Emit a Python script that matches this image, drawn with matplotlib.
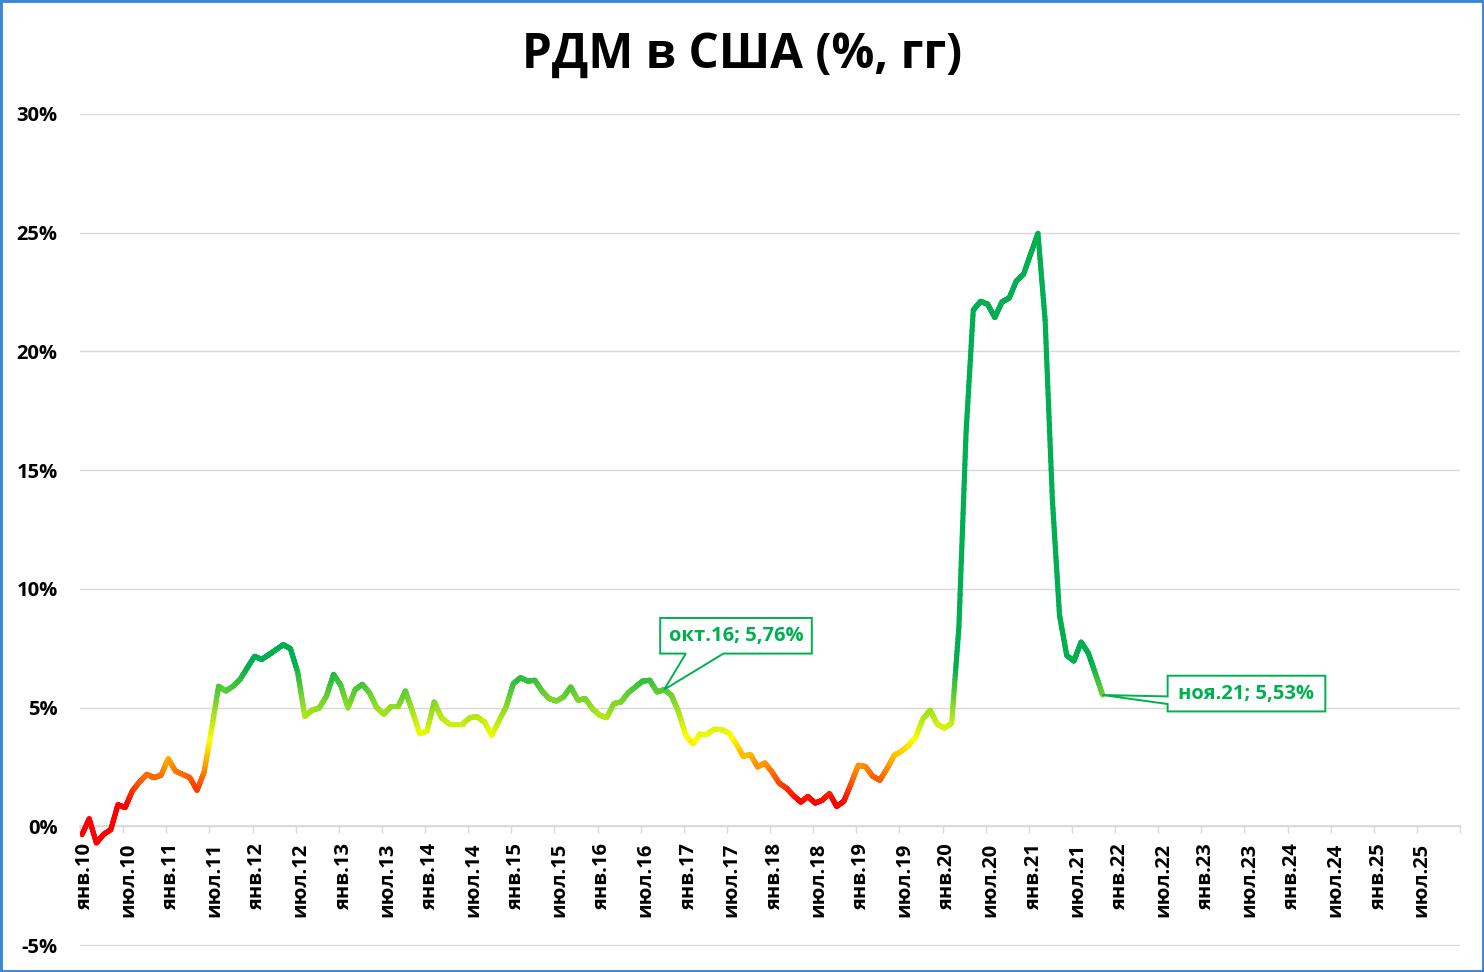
import numpy as np
import matplotlib
matplotlib.use("Agg")
import matplotlib.pyplot as plt
from matplotlib.collections import LineCollection
from matplotlib.colors import LinearSegmentedColormap, Normalize
from matplotlib.patches import Rectangle, Polygon
from matplotlib.transforms import ScaledTranslation

# ---------------- data ----------------
title = "РДМ в США (%, гг)"
# monthly values from янв.10 to ноя.21 (% yoy)
values = [
    -0.35, 0.32, -0.70, -0.34, -0.14, 0.91, 0.79, 1.49, 1.87, 2.19, 2.05, 2.15,   # 2010
    2.85, 2.33, 2.19, 2.05, 1.52, 2.29, 4.05, 5.90, 5.70, 5.90, 6.19, 6.68,       # 2011
    7.16, 7.03, 7.23, 7.44, 7.65, 7.48, 6.50, 4.63, 4.89, 4.98, 5.48, 6.40,       # 2012
    5.94, 4.98, 5.76, 5.98, 5.62, 5.00, 4.72, 5.05, 5.05, 5.70, 4.81, 3.90,       # 2013
    4.01, 5.24, 4.58, 4.33, 4.33, 4.33, 4.58, 4.61, 4.39, 3.83, 4.44, 5.03,       # 2014
    6.01, 6.26, 6.12, 6.15, 5.70, 5.38, 5.28, 5.45, 5.87, 5.31, 5.38, 4.96,       # 2015
    4.68, 4.58, 5.17, 5.24, 5.63, 5.87, 6.12, 6.15, 5.66, 5.76, 5.52, 4.82,       # 2016
    3.83, 3.48, 3.90, 3.90, 4.09, 4.07, 3.93, 3.48, 2.95, 3.03, 2.50, 2.67,       # 2017
    2.29, 1.82, 1.61, 1.29, 1.02, 1.26, 0.98, 1.10, 1.38, 0.84, 1.06, 1.80,       # 2018
    2.57, 2.52, 2.11, 1.94, 2.43, 2.99, 3.16, 3.41, 3.76, 4.53, 4.89, 4.30,       # 2019
    4.14, 4.35, 8.39, 16.60, 21.74, 22.11, 21.99, 21.43, 22.09, 22.25, 22.97, 23.25,  # 2020
    24.12, 24.97, 21.31, 13.80, 8.89, 7.20, 6.96, 7.76, 7.30, 6.43, 5.53,        # 2021
]
x_tick_labels = [
    "янв.10", "июл.10", "янв.11", "июл.11", "янв.12", "июл.12", "янв.13", "июл.13",
    "янв.14", "июл.14", "янв.15", "июл.15", "янв.16", "июл.16", "янв.17", "июл.17",
    "янв.18", "июл.18", "янв.19", "июл.19", "янв.20", "июл.20", "янв.21", "июл.21",
    "янв.22", "июл.22", "янв.23", "июл.23", "янв.24", "июл.24", "янв.25", "июл.25", "",
]
y_ticks = [-5, 0, 5, 10, 15, 20, 25, 30]
y_tick_labels = ["-5%", "0%", "5%", "10%", "15%", "20%", "25%", "30%"]
annot_idx = [81, 142]
annot_labels = ["окт.16; 5,76%", "ноя.21; 5,53%"]

# ---------------- style ----------------
GREEN = "#00B050"
GRID = "#D9D9D9"
FONT = ["Open Sans", "DejaVu Sans"]
plt.rcParams["font.family"] = FONT

fig = plt.figure(figsize=(14.84, 9.72), dpi=100)
fig.subplots_adjust(left=80 / 1484, right=1460 / 1484, bottom=1 - 946 / 972, top=1 - 114 / 972)
ax = fig.add_subplot(111)

x = np.arange(len(values), dtype=float)
y = np.array(values, dtype=float)

# gradient line coloured by value
cmap = LinearSegmentedColormap.from_list(
    "rdm", [(0.0, "#FF0000"), ((3.7 - 1.0) / 5.8, "#FFFF00"), (1.0, GREEN)])
norm = Normalize(vmin=1.0, vmax=6.8, clip=True)
segs, cols = [], []
n_sub = 24
for k in range(len(x) - 1):
    t = np.linspace(0, 1, n_sub + 1)
    xs = x[k] + (x[k + 1] - x[k]) * t
    ys = y[k] + (y[k + 1] - y[k]) * t
    for j in range(n_sub):
        segs.append([(xs[j], ys[j]), (xs[j + 1], ys[j + 1])])
        cols.append(cmap(norm(0.5 * (ys[j] + ys[j + 1]))))
lc = LineCollection(segs, colors=cols, linewidths=3.7, capstyle="round", joinstyle="round", zorder=3)
ax.add_collection(lc)

# axes
ax.set_xlim(-0.28, 191.72)
ax.set_ylim(-5.04, 30)
ax.set_yticks(y_ticks)
ax.set_yticklabels(y_tick_labels)
xt = np.arange(len(x_tick_labels)) * 6 - 0.28
ax.set_xticks(xt)
ax.set_xticklabels(x_tick_labels)

for s in ["top", "right", "left"]:
    ax.spines[s].set_visible(False)
ax.spines["bottom"].set_position(("data", 0))
ax.spines["bottom"].set_color(GRID)
ax.spines["bottom"].set_linewidth(1.3)
ax.grid(axis="y", color=GRID, linewidth=1.0, zorder=0)
ax.set_axisbelow(True)
ax.tick_params(axis="y", length=0, pad=16, labelsize=14.5, labelcolor="black")
ax.tick_params(axis="x", length=5, width=1, color=GRID, direction="out", pad=7,
               labelsize=14.5, labelcolor="black", labelrotation=90)
for lab in ax.get_yticklabels():
    lab.set_fontweight("bold")
shift = ScaledTranslation(5 / 100.0, 0, fig.dpi_scale_trans)
for lab in ax.get_xticklabels():
    lab.set_fontweight("bold")
    lab.set_ha("center")
    lab.set_va("top")
    lab.set_transform(lab.get_transform() + shift)

# title
fig.text(0.5, 1 - 55 / 972, title, ha="center", va="center", fontsize=34.3,
         fontweight="bold", family=FONT)

# annotations (callouts) - shapes in pixel offsets (/100 -> inches) from the data point
callouts = [
    dict(poly=[(-4, 36), (21.6, 36), (0, 0), (59.3, 36), (147.6, 36), (147.6, 71.6), (-4, 71.6)],
         text=(71.8, 54.0)),
    dict(poly=[(65, 19.3), (222.7, 19.3), (222.7, -16.4), (65, -16.4), (65, -9), (0, 0), (65, -1.4)],
         text=(143.8, 1.5)),
]
for idx, lab, c in zip(annot_idx, annot_labels, callouts):
    tr = fig.dpi_scale_trans + ScaledTranslation(x[idx], y[idx], ax.transData)
    pts = [(px / 100.0, py / 100.0) for px, py in c["poly"]]
    ax.add_patch(Polygon(pts, closed=True, transform=tr, fc="white", ec=GREEN, lw=1.4,
                         zorder=5, clip_on=False))
    ax.text(c["text"][0] / 100.0, c["text"][1] / 100.0, lab, transform=tr, ha="center",
            va="center", fontsize=14.5, fontweight="bold", color=GREEN, zorder=6)

# figure border
fig.patches.append(Rectangle((0, 0), 1, 1, transform=fig.transFigure, fill=False,
                             ec="#3C86D6", lw=3.5, zorder=10))

fig.savefig("out.png", dpi=100)
